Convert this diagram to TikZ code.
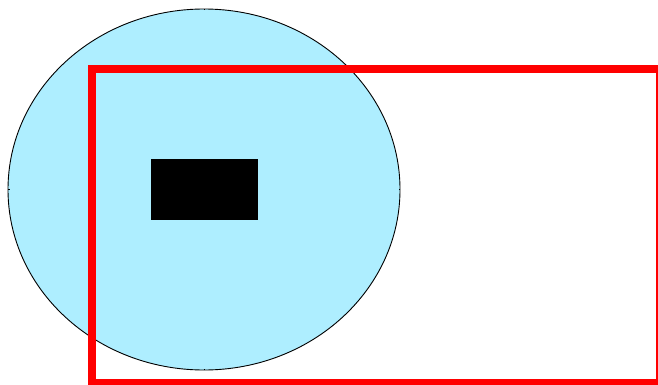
\documentclass[tikz,border=0pt]{standalone}
\usetikzlibrary{shapes.geometric}
\definecolor{skyfill}{RGB}{174,238,255}
\tikzset{
  blob/.style={ellipse, draw=black, fill=skyfill, line width=0.9pt, inner sep=0pt, outer sep=0pt},
  blackbox/.style={rectangle, fill=black, draw=none, inner sep=0pt, outer sep=0pt},
  redframe/.style={rectangle, draw=red, line width=8pt, inner sep=0pt, outer sep=0pt},
  tick/.style={line width=0.9pt, black}
}
\begin{document}
\begin{tikzpicture}[x=1pt,y=-1pt]
\useasboundingbox (0,0) rectangle (658,385);
\node[blob, minimum width=392pt, minimum height=361pt] (oval) at (204,189.5) {};
\draw[tick] (oval.north) -- ++(0,1.5);
\draw[tick] (oval.south) -- ++(0,-1.5);
\draw[tick] (oval.west) -- ++(1.5,0);
\draw[tick] (oval.east) -- ++(-1.5,0);
\node[blackbox, minimum width=107pt, minimum height=61pt] (box) at (204.5,189.5) {};
\node[redframe, minimum width=568pt, minimum height=314pt] (frame) at (376,226) {};
\end{tikzpicture}
\end{document}
